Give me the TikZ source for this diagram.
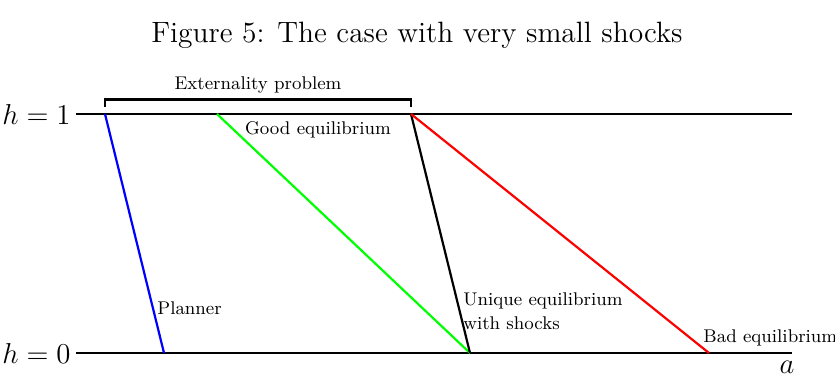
\documentclass[tikz,border=0pt]{standalone}
\begin{document}
\begin{tikzpicture}[x=0.5pt,y=-0.5pt,
  axis/.style={line width=1.2pt,black},
  ray/.style={line width=1.1pt},
  lbl/.style={font=\fontsize{9.2}{11}\selectfont,inner sep=0pt},
  mlbl/.style={font=\fontsize{14.4}{17}\selectfont,inner sep=0pt}]
\useasboundingbox (0,0) rectangle (835,376);
% title
\node[font=\fontsize{14.7}{17}\selectfont,inner sep=0pt] (title) at (417,35) {Figure 5: The case with very small shocks};
% axis endpoints
\coordinate (t0) at (76,114);
\coordinate (t1) at (792,114);
\coordinate (b0) at (76,353);
\coordinate (b1) at (792,353);
\draw[axis] (t0) -- (t1);
\draw[axis] (b0) -- (b1);
\node[mlbl,anchor=east] (h1) at (71,114) {$h=1$};
\node[mlbl,anchor=east] (h0) at (71,353) {$h=0$};
\node[mlbl] (alab) at (787,367) {$a$};
% ray endpoints
\coordinate (pt) at (105,114);
\coordinate (pb) at (164,353);
\coordinate (gt) at (217,114);
\coordinate (ub) at (470,353);
\coordinate (ut) at (411,114);
\coordinate (rb) at (709,353);
\draw[ray,blue] (pt) -- (pb);
\draw[ray,green] (gt) -- (ub);
\draw[ray,black] (ut) -- (ub);
\draw[ray,red] (ut) -- (rb);
% bracket
\coordinate (bl) at (105,107);
\coordinate (br) at (411,107);
\draw[line width=1.1pt] (bl) -- ++(0,-7.5) -| (br);
\node[lbl] (ext) at (258,85) {Externality problem};
\node[lbl] (good) at (318,130) {Good equilibrium};
\node[lbl,anchor=west] (plan) at (157,308) {Planner};
\node[lbl,anchor=west,align=left] (uniq) at (463,311) {Unique equilibrium\\[1pt]with shocks};
\node[lbl,anchor=west] (bad) at (703,338) {Bad equilibrium};
\end{tikzpicture}
\end{document}
